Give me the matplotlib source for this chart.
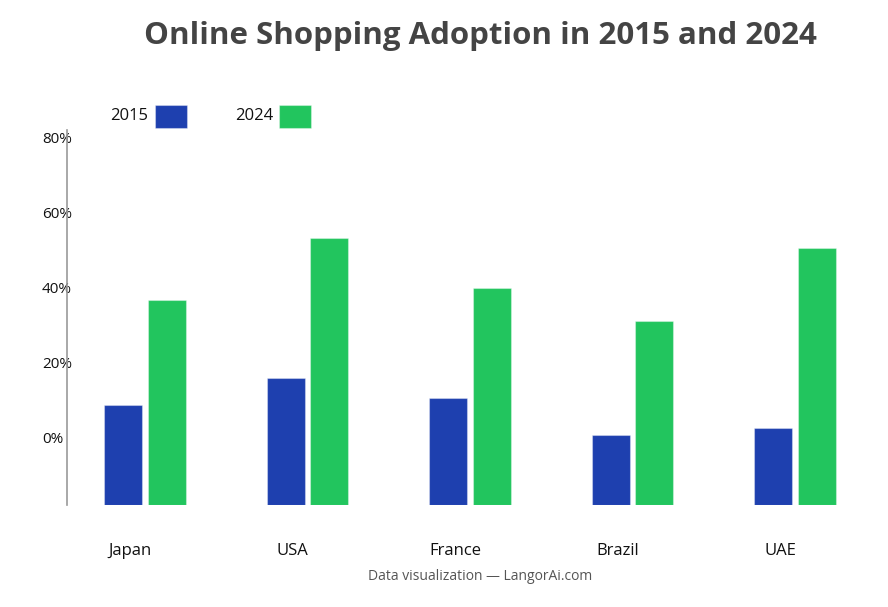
import numpy as np
import matplotlib
matplotlib.use("Agg")
import matplotlib.pyplot as plt
import matplotlib.patches as mpatches

plt.rcParams["font.family"] = ["Open Sans", "DejaVu Sans"]

# ─────────────────────────────────────────────────────────────
#  DATA
# ─────────────────────────────────────────────────────────────
countries = ["Japan", "USA", "France", "Brazil", "UAE"]
adopt_2015 = [26.7, 33.9, 28.5, 18.7, 20.5]
adopt_2024 = [54.7, 71.2, 57.9, 49.1, 68.5]
tick_labels = ["0%", "20%", "40%", "60%", "80%"]
tick_values = [0, 20, 40, 60, 80]

C2015 = "#1e40af"
C2024 = "#22c55e"

W, H = 888, 607
fig = plt.figure(figsize=(W / 100, H / 100), dpi=100)
ax = fig.add_axes([67 / W, 102 / H, 806 / W, 375 / H])

x = np.arange(len(countries))
bw, off = 0.234, 0.135

ax.bar(x - off, adopt_2015, width=bw, color=C2015,
       edgecolor=(1, 1, 1, 0.35), linewidth=0.8)
ax.bar(x + off, adopt_2024, width=bw, color=C2024,
       edgecolor=(1, 1, 1, 0.35), linewidth=0.8)

ax.set_xlim(-0.48, 4.48)
ax.set_ylim(0, 100)

# tick labels sit ~18 points above their grid value in the source chart
shift = 18.1
ax.set_yticks([v + shift for v in tick_values])
ax.set_yticklabels(tick_labels, fontsize=11, color="#111111")
ax.tick_params(axis="y", length=0, pad=18)
for lab in ax.get_yticklabels():
    lab.set_horizontalalignment("left")

ax.set_xticks(x - 0.092)
ax.set_xticklabels(countries, fontsize=12, color="#111111")
ax.tick_params(axis="x", length=0, pad=33)
for lab in ax.get_xticklabels():
    lab.set_verticalalignment("center")

for s in ["top", "right", "bottom"]:
    ax.spines[s].set_visible(False)
ax.spines["left"].set_color("#999999")
ax.spines["left"].set_linewidth(1.2)

# title / footer
fig.text(480 / W, 1 - 36 / H, "Online Shopping Adoption in 2015 and 2024",
         ha="center", va="center", fontsize=22.5, fontweight="bold",
         color="#444444")
fig.text(480 / W, 1 - 576 / H, "Data visualization — LangorAi.com",
         ha="center", va="center", fontsize=10, color="#555555")

# legend
for label, color, tx, rx in [("2015", C2015, 148, 155), ("2024", C2024, 273, 279)]:
    fig.text(tx / W, 1 - 116 / H, label, ha="right", va="center",
             fontsize=12, color="#111111")
    fig.add_artist(mpatches.Rectangle(
        (rx / W, 1 - 128 / H), 32 / W, 23 / H,
        transform=fig.transFigure, facecolor=color,
        edgecolor=(1, 1, 1, 0.35), linewidth=0.8
    ))

fig.savefig("out.png", dpi=100)
